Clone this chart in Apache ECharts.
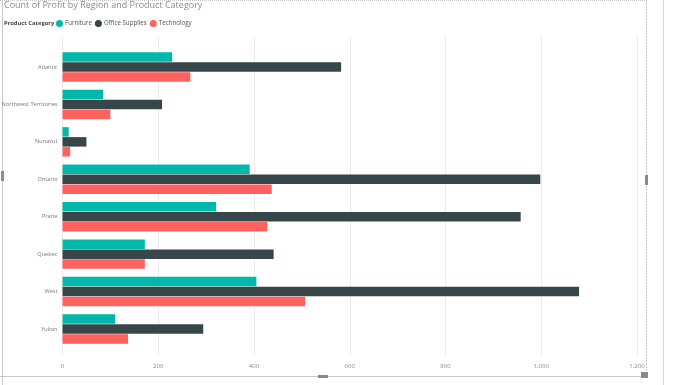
<!DOCTYPE html>
<html><head><meta charset="utf-8">
<script src="https://cdn.jsdelivr.net/npm/echarts@6/dist/echarts.min.js"></script>
<style>html,body{margin:0;padding:0;background:#fff}#c{width:685px;height:385px}</style>
</head><body><div id="c"></div>
<script>
const categories = ['Atlantic','Northwest Territories','Nunavut','Ontario','Prarie','Quebec','West','Yukon'];
const furniture = [229, 85, 13, 391, 321, 172, 405, 110];
const officeSupplies = [582, 208, 50, 998, 957, 441, 1079, 294];
const technology = [267, 100, 16, 437, 428, 172, 507, 137];
const xTicks = [0, 200, 400, 600, 800, 1000, 1200];
const seriesNames = ['Furniture','Office Supplies','Technology'];
const colors = ['#01B8AA','#374649','#FD625E'];
const FONT = "'Open Sans', 'DejaVu Sans', sans-serif";

const chart = echarts.init(document.getElementById('c'));
const L = 62.5, R = 48;
const fmt = v => v >= 1000 ? (Math.floor(v/1000) + ',' + String(v%1000).padStart(3,'0')) : String(v);
chart.setOption({
  animation: false,
  textStyle: {fontFamily: FONT},
  title: {text: 'Count of Profit by Region and Product Category', left: 4, top: 1, padding: 0,
    textStyle: {fontSize: 9, fontWeight: 'normal', color: '#8a8a8a', fontFamily: FONT}},
  legend: {left: 56, top: 20, padding: 0, icon: 'circle', itemWidth: 7, itemHeight: 7, itemGap: 3,
    textStyle: {fontSize: 6.2, color: '#555', fontFamily: FONT, padding: [0,0,0,-3]},
    data: seriesNames},
  graphic: [
    {type: 'text', left: 4, top: 20.5, style: {text: 'Product Category', fontSize: 5.8, fontWeight: 'bold', fill: '#444', fontFamily: FONT}},
    {type: 'line', shape: {x1: 2.5, y1: 0, x2: 2.5, y2: 385}, style: {stroke: '#c8c8c8', lineWidth: 1}},
    {type: 'rect', shape: {x: 1, y: 171, width: 3, height: 10}, style: {fill: '#8a8a8a'}},
    {type: 'line', shape: {x1: 0, y1: 376.5, x2: 646, y2: 376.5}, style: {stroke: '#c8c8c8', lineWidth: 1}},
    {type: 'rect', shape: {x: 318, y: 375, width: 10, height: 3}, style: {fill: '#8a8a8a'}},
    {type: 'line', shape: {x1: 646.5, y1: 0, x2: 646.5, y2: 376}, style: {stroke: '#c8c8c8', lineWidth: 1, lineDash: [2,1]}},
    {type: 'rect', shape: {x: 645, y: 175, width: 3, height: 10}, style: {fill: '#8a8a8a'}},
    {type: 'rect', shape: {x: 641, y: 372, width: 7, height: 6}, style: {fill: '#8a8a8a'}},
    {type: 'line', shape: {x1: 663.5, y1: 0, x2: 663.5, y2: 385}, style: {stroke: '#d8d8d8', lineWidth: 1}},
    {type: 'line', shape: {x1: 0, y1: 0.5, x2: 646, y2: 0.5}, style: {stroke: '#c8c8c8', lineWidth: 1, lineDash: [1,1]}}
  ],
  grid: [
    {left: L, right: R, top: 48.3, bottom: 37.3, outerBoundsMode: 'none', containLabel: false},
    {left: L, right: R, top: 36, bottom: 30, outerBoundsMode: 'none', containLabel: false}
  ],
  xAxis: [
    {gridIndex: 0, type: 'value', min: 0, max: 1200, interval: 200, show: false, splitLine: {show: false}},
    {gridIndex: 1, type: 'value', min: xTicks[0], max: xTicks[xTicks.length-1], interval: 200,
      axisLine: {show: false}, axisTick: {show: false},
      axisLabel: {fontSize: 6, color: '#8a8a8a', margin: 8, fontFamily: FONT, formatter: fmt},
      splitLine: {show: true, lineStyle: {color: '#ececec', width: 1}}}
  ],
  yAxis: [
    {gridIndex: 0, type: 'category', data: categories, inverse: true,
      axisLine: {show: false}, axisTick: {show: false},
      axisLabel: {fontSize: 5.6, color: '#777', margin: 5, fontFamily: FONT}},
    {gridIndex: 1, type: 'value', show: false}
  ],
  series: [furniture, officeSupplies, technology].map((d, i) => ({
    name: seriesNames[i], type: 'bar', data: d, xAxisIndex: 0, yAxisIndex: 0,
    barWidth: 9.5, barGap: '5%', itemStyle: {color: colors[i]}
  }))
});
</script></body></html>
